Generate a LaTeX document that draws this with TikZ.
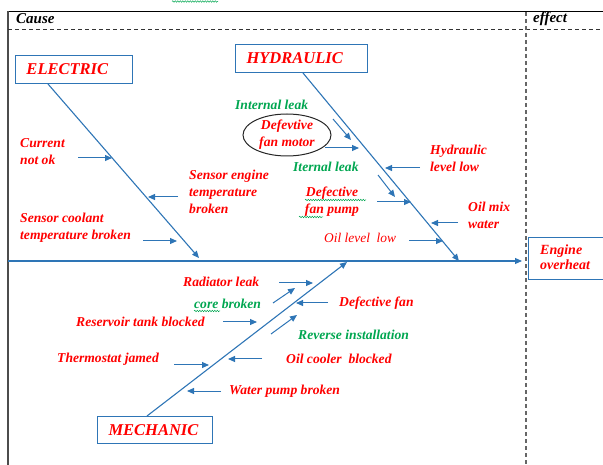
\documentclass[tikz,border=0pt]{standalone}
\usepackage{fontspec}
\setmainfont{Liberation Serif}
\usetikzlibrary{arrows.meta,shapes.geometric,decorations.pathmorphing,calc}
\definecolor{lblue}{RGB}{46,117,182}
\definecolor{tred}{RGB}{255,0,0}
\definecolor{tgreen}{RGB}{0,166,80}
\begin{document}
\begin{tikzpicture}[x=1pt,y=-1pt,
  lbl/.style={font=\fontsize{13.6}{17}\selectfont\bfseries\itshape, text=tred, inner sep=0pt, align=left, anchor=west},
  glbl/.style={lbl, text=tgreen},
  hdr/.style={font=\fontsize{15}{16}\selectfont\bfseries\itshape, text=black, inner sep=0pt, anchor=west},
  catbox/.style={draw=lblue, line width=1pt, font=\fontsize{16.5}{18}\selectfont\bfseries\itshape, text=tred, minimum height=28pt, inner ysep=0pt, inner xsep=11pt, align=left, anchor=north west},
  arr/.style={draw=lblue, line width=1pt, -{Triangle[length=7pt,width=6pt]}},
  spine/.style={arr, line width=1.1pt},
  squig/.style={draw=tgreen, decorate, decoration={snake, amplitude=0.7pt, segment length=2.5pt}, line width=0.5pt}]
\useasboundingbox (0,0) rectangle (603,465);
% frame
\draw[line width=1pt] (8,12) -- (603,12);
\draw[gray!60!black, line width=2pt] (8,11.5) -- (8,465);
\draw[dash pattern=on 4pt off 3pt, line width=0.9pt, black!80] (8,29) -- (603,29);
\draw[dash pattern=on 4pt off 3pt, line width=1.5pt, gray!80!black] (526,12) -- (526,465);
\draw[squig] (172,1.5) -- (218,1.5);
\node[hdr] (cause) at (16,19) {Cause};
\node[hdr] (effect) at (533,19) {effect};
% category boxes
\node[catbox, text width=95pt] (elec) at (15,55) {ELECTRIC};
\node[catbox, text width=110pt] (hyd) at (235,44) {HYDRAULIC};
\node[catbox, text width=93pt, minimum height=27pt] (mech) at (97,416) {MECHANIC};
\node[draw=lblue, line width=1pt, anchor=north west, minimum width=82pt, minimum height=42pt, inner sep=0pt] (effbox) at (528,237) {};
\node[lbl, font=\fontsize{14}{15}\selectfont\bfseries\itshape] (eng) at (540,257) {Engine\\overheat};
% spines
\coordinate (mstart) at (8,261);
\coordinate (mtip) at (522,261);
\coordinate (etip) at (199,258);
\coordinate (htip) at (459,261);
\coordinate (ktip) at (347,262);
\draw[spine] (mstart) -- (mtip);
\draw[spine] ($(elec.south west)+(33,0)$) -- (etip);
\draw[spine] ($(hyd.south west)+(68,0)$) -- (htip);
\draw[spine] ($(mech.north west)+(50,0)$) -- (ktip);
% electric
\node[lbl] (cur) at (20,152) {Current\\not ok};
\node[lbl] (sen) at (189,192) {Sensor engine\\temperature\\broken};
\node[lbl] (sco) at (20,227.5) {Sensor coolant\\temperature broken};
\coordinate (e1s) at (78,158); \coordinate (e1e) at (112,158);
\coordinate (e2s) at (178,197); \coordinate (e2e) at (148,197);
\coordinate (e3s) at (143,241); \coordinate (e3e) at (177,241);
\draw[arr] (e1s) -- (e1e);
\draw[arr] (e2s) -- (e2e);
\draw[arr] (e3s) -- (e3e);
% hydraulic
\node[glbl] (il1) at (235,105) {Internal leak};
\node[draw=black!85, line width=1pt, ellipse, minimum width=88pt, minimum height=42pt, inner sep=0pt, align=center, text=tred, font=\fontsize{13.6}{17}\selectfont\bfseries\itshape] (dfm) at (287,135) {Defevtive\\fan motor};
\node[glbl] (il2) at (293,167) {Iternal leak};
\node[lbl, align=center, anchor=center] (dfp) at (332,202) {Defective\\fan pump};
\node[lbl] (hll) at (430,158) {Hydraulic\\level low};
\node[lbl] (omw) at (468,215) {Oil mix\\water};
\node[lbl, font=\fontsize{13.4}{17}\selectfont\itshape] (oll) at (324,238) {Oil level\ \ low};
\draw[squig] (305,200) -- (366,200);
\draw[squig] (299,217) -- (323,217);
\coordinate (h1s) at (333,119); \coordinate (h1e) at (351,140);
\coordinate (h2s) at (325,148); \coordinate (h2e) at (359,148);
\coordinate (h3s) at (378,175); \coordinate (h3e) at (395,197);
\coordinate (h4s) at (377,202); \coordinate (h4e) at (411,202);
\coordinate (h5s) at (420,168); \coordinate (h5e) at (385,168);
\coordinate (h6s) at (458,223); \coordinate (h6e) at (431,223);
\coordinate (h7s) at (409,241); \coordinate (h7e) at (443,241);
\foreach \i in {1,...,7} {\draw[arr] (h\i s) -- (h\i e);}
% mechanic
\node[lbl] (rad) at (183,282) {Radiator leak};
\node[glbl] (cor) at (194,304) {core broken};
\draw[squig] (194,311) -- (220,311);
\node[lbl] (res) at (76,322) {Reservoir tank blocked};
\node[lbl] (dfn) at (339,303) {Defective fan};
\node[glbl] (rev) at (298,335) {Reverse installation};
\node[lbl] (thm) at (57,359) {Thermostat jamed};
\node[lbl] (ocb) at (286,359) {Oil cooler\ \ blocked};
\node[lbl] (wpb) at (229,391) {Water pump broken};
\coordinate (m1s) at (279,283); \coordinate (m1e) at (313,283);
\coordinate (m2s) at (273,303); \coordinate (m2e) at (295,288);
\coordinate (m3s) at (223,322); \coordinate (m3e) at (257,322);
\coordinate (m4s) at (328,303); \coordinate (m4e) at (296,303);
\coordinate (m5s) at (271,334); \coordinate (m5e) at (297,315);
\coordinate (m6s) at (174,365); \coordinate (m6e) at (209,365);
\coordinate (m7s) at (262,359); \coordinate (m7e) at (228,359);
\coordinate (m8s) at (221,391); \coordinate (m8e) at (187,391);
\foreach \i in {1,...,8} {\draw[arr] (m\i s) -- (m\i e);}
\end{tikzpicture}
\end{document}
